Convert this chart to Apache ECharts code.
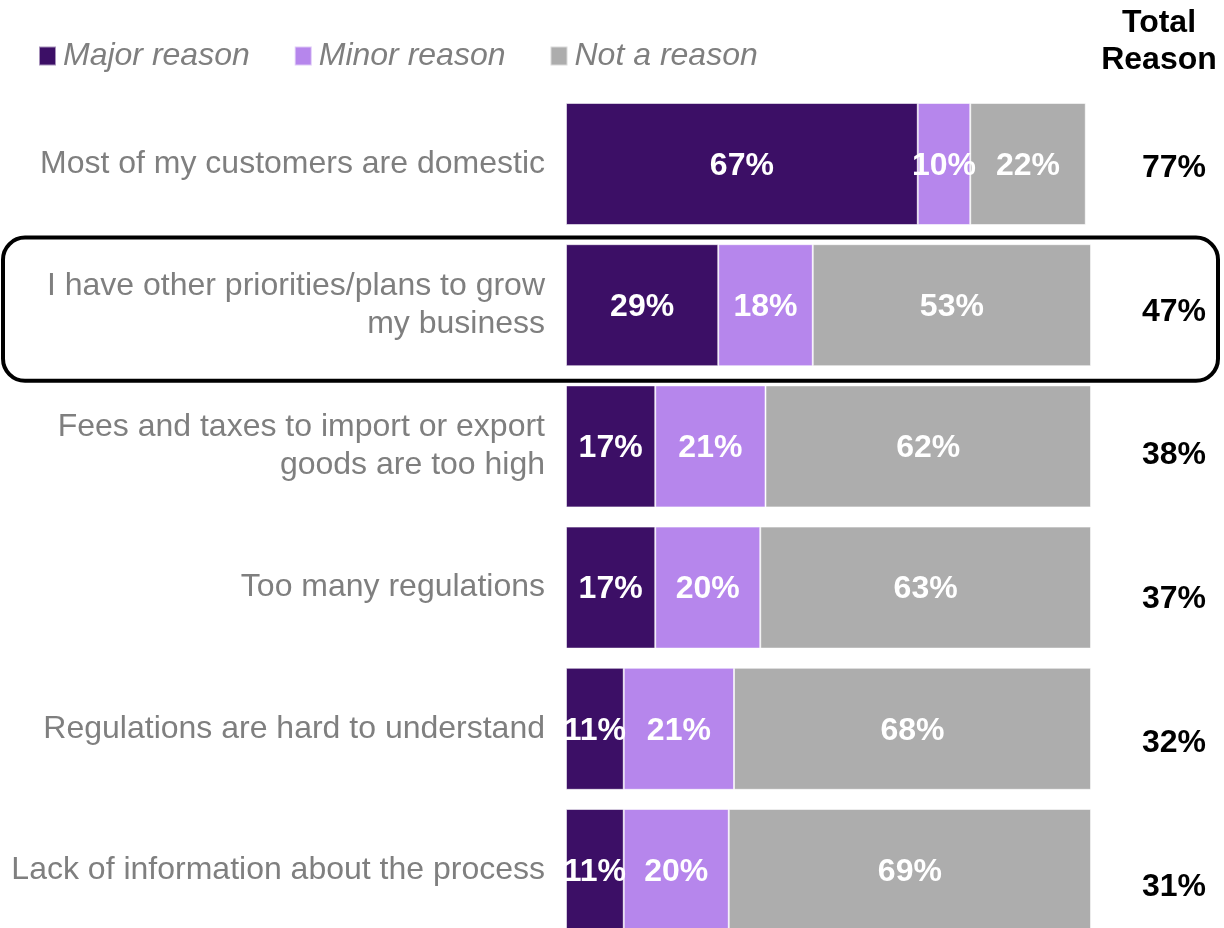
<!DOCTYPE html>
<html>
<head>
<meta charset="utf-8">
<script src="https://cdn.jsdelivr.net/npm/echarts@6/dist/echarts.min.js"></script>
<style>
  html, body { margin: 0; padding: 0; background: #fff; }
  #chart { width: 1224px; height: 928px; }
</style>
</head>
<body>
<div id="chart"></div>
<script>
// Reasons for not selling abroad, share of respondents (%)
const categories = [
  'Most of my customers are domestic',
  'I have other priorities/plans to grow\nmy business',
  'Fees and taxes to import or export\ngoods are too high',
  'Too many regulations',
  'Regulations are hard to understand',
  'Lack of information about the process'
];
const majorReason = [67, 29, 17, 17, 11, 11];
const minorReason = [10, 18, 21, 20, 21, 20];
const notAReason = [22, 53, 62, 63, 68, 69];
const totalReason = [77, 47, 38, 37, 32, 31];
const highlightedRow = 1;

const FONT = "'Liberation Sans', Arial, sans-serif";
const COLORS = { major: '#3c0f66', minor: '#b686ec', not: '#adadad' };

const chart = echarts.init(document.getElementById('chart'));

function barSeries(name, data, color) {
  return {
    name: name,
    type: 'bar',
    stack: 'share',
    xAxisIndex: 0,
    yAxisIndex: 0,
    barWidth: 122,
    data: data,
    itemStyle: { color: color, borderColor: 'rgba(255,255,255,0.55)', borderWidth: 1 },
    label: {
      show: true,
      position: 'inside',
      offset: [0, 2],
      formatter: p => p.value + '%',
      color: '#fff',
      fontFamily: FONT,
      fontWeight: 'bold',
      fontSize: 32
    },
    emphasis: { disabled: true }
  };
}

chart.setOption({
  animation: false,
  textStyle: { fontFamily: FONT },
  title: {
    text: 'Total\nReason',
    left: 1154,
    top: 0,
    textAlign: 'center',
    textStyle: { fontFamily: FONT, fontWeight: 'bold', fontSize: 32, lineHeight: 37, color: '#000' }
  },
  legend: {
    left: 38,
    top: 40,
    padding: 0,
    itemWidth: 17,
    itemHeight: 19,
    itemGap: 44,
    icon: 'rect',
    selectedMode: false,
    textStyle: { fontFamily: FONT, fontSize: 32, fontStyle: 'italic', color: '#7f7f7f', padding: [0, 0, 0, 2] },
    data: ['Major reason', 'Minor reason', 'Not a reason']
  },
  // Rows sit on the category ticks, so the last bar may run past the bottom edge
  grid: [
    { left: 566, right: 133, top: 164, height: 706 },
    { left: 1091, right: 0, top: 168, height: 719 }
  ],
  xAxis: [
    { gridIndex: 0, type: 'value', min: 0, max: 100, show: false },
    { gridIndex: 1, type: 'value', min: 0, max: 1, show: false }
  ],
  yAxis: [
    {
      gridIndex: 0,
      type: 'category',
      inverse: true,
      boundaryGap: false,
      data: categories,
      axisLine: { show: false },
      axisTick: { show: false },
      splitLine: { show: false },
      axisLabel: {
        margin: 21,
        color: '#7f7f7f',
        fontFamily: FONT,
        fontSize: 32,
        lineHeight: 38,
        align: 'right'
      }
    },
    {
      gridIndex: 1,
      type: 'category',
      inverse: true,
      boundaryGap: false,
      position: 'left',
      data: totalReason.map(v => v + '%'),
      axisLine: { show: false },
      axisTick: { show: false },
      splitLine: { show: false },
      axisLabel: {
        inside: true,
        margin: 51,
        color: '#000',
        fontFamily: FONT,
        fontWeight: 'bold',
        fontSize: 32,
        align: 'left'
      }
    }
  ],
  series: [
    barSeries('Major reason', majorReason, COLORS.major),
    barSeries('Minor reason', minorReason, COLORS.minor),
    barSeries('Not a reason', notAReason, COLORS.not)
  ]
});

// Rounded frame around the highlighted row, placed from the category axis
const rowCenter = chart.convertToPixel({ yAxisIndex: 0 }, categories[highlightedRow]);
const rowNext = chart.convertToPixel({ yAxisIndex: 0 }, categories[highlightedRow + 1]);
const band = rowNext - rowCenter;
chart.setOption({
  graphic: [{
    type: 'rect',
    silent: true,
    shape: { x: 3, y: rowCenter - band / 2 + 3, width: 1215, height: band + 2, r: 22 },
    style: { fill: 'none', stroke: '#000', lineWidth: 4 }
  }]
});
</script>
</body>
</html>
